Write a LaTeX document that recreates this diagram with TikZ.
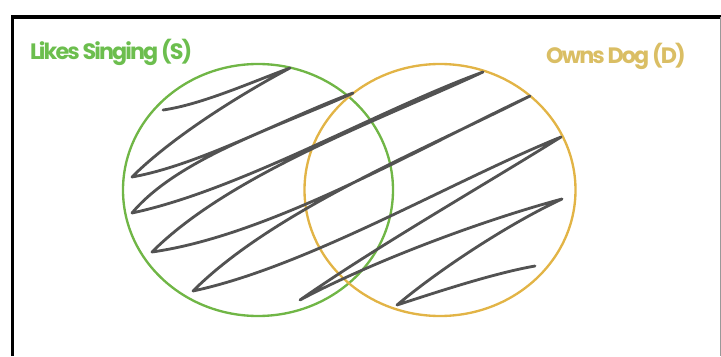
\documentclass[tikz,border=0pt]{standalone}
\usepackage{fontspec}
\newfontfamily\labelfont[LetterSpace=-8.5]{Poppins}
\usepackage{tikz}
\usetikzlibrary{positioning, calc}

\definecolor{singgreen}{RGB}{112,182,70}
\definecolor{doggold}{RGB}{226,180,70}
\definecolor{labelgreen}{RGB}{108,190,78}
\definecolor{labelgold}{RGB}{218,190,100}
\definecolor{scribgray}{RGB}{82,82,82}

\begin{document}
\begin{tikzpicture}[
      x=0.03cm, y=0.03cm,
      setlabel/.style={anchor=base west, inner sep=0pt, font=\labelfont\bfseries\fontsize{19}{19}\selectfont},
      ring/.style={line width=2pt},
      scrib/.style={scribgray, line width=2.4pt, line cap=round, line join=round, looseness=0.75},
      frame/.style={line width=3.4pt}
    ]
    \useasboundingbox (0,0) rectangle (721,356);

    % Frame round the picture
    \draw[frame] (12.5,0) -- (12.5,339) -- (721,339);
    \draw[black!40, line width=0.6pt] (720,0) -- (720,339);

    % Circles for the two sets
    \draw[ring, singgreen] (258,166) ellipse [x radius=135, y radius=126];
    \draw[ring, doggold] (440,166) ellipse [x radius=135.5, y radius=126];

    % Set labels
    \node[setlabel, labelgreen] (S) at (30,296) {Likes Singing (S)};
    \node[setlabel, labelgold] (D) at (546,292) {Owns Dog (D)};

    % Shading scribble over both sets
    \draw[scrib] (163,246) to[out=8,in=200] (290,288)
      to[out=208,in=45] (132,179)
      to[out=10,in=200] (353,263)
      to[out=205,in=50] (132,143)
      to[out=12,in=200] (483,284)
      to[out=205,in=45] (152,104)
      to[out=8,in=205] (530,260)
      to[out=207,in=45] (193,65)
      to[out=12,in=202] (561,219)
      to[out=212,in=35] (300,56)
      to[out=28,in=195] (562,157)
      to[out=205,in=40] (397,51)
      to[out=18,in=190] (535,90);
  \end{tikzpicture}
\end{document}
